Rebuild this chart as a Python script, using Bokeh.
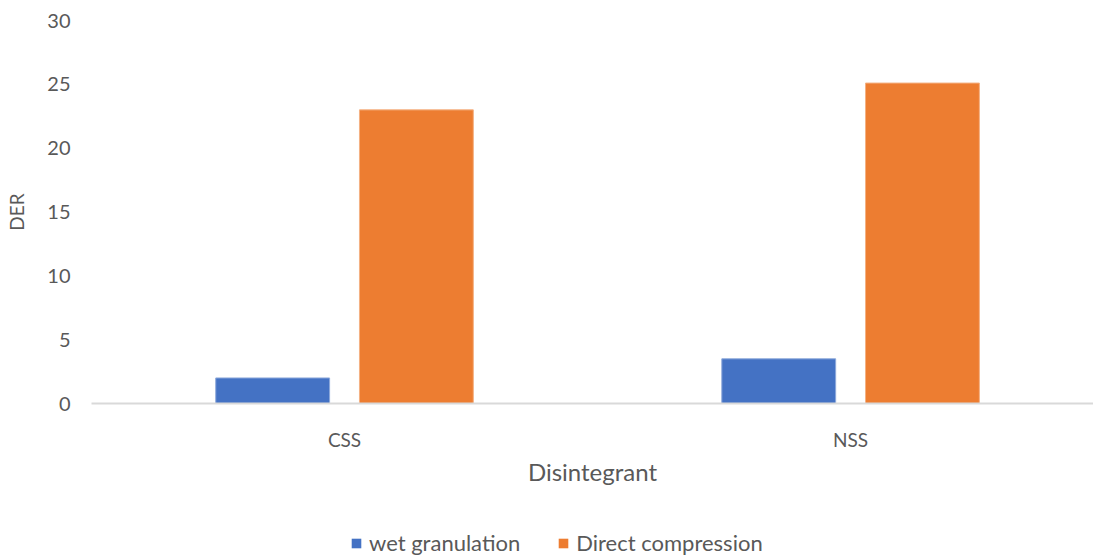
from bokeh.plotting import figure
from bokeh.layouts import column
from bokeh.models import ColumnDataSource, Range1d, FixedTicker, Legend, LegendItem
from bokeh.transform import dodge
from bokeh.embed import file_html
from bokeh.resources import INLINE

# Disintegration efficiency ratio per disintegrant and method
categories = ["CSS", "NSS"]
wet_granulation = [2.0, 3.5]
direct_compression = [23.0, 25.1]
y_ticks = [0, 5, 10, 15, 20, 25, 30]

FONT = "Lato"
GREY = "#595959"
BLUE = "#4472C4"
ORANGE = "#ED7D31"

# categories sit at the centres of unit-wide slots
positions = [i + 0.5 for i in range(len(categories))]
source = ColumnDataSource(dict(pos=positions, wet=wet_granulation, direct=direct_compression))

p = figure(
    x_range=Range1d(0, 1.98), y_range=Range1d(0, 30),
    width=1093, height=507,
    output_backend="svg", toolbar_location=None,
    min_border_left=91, min_border_right=0, min_border_top=20, min_border_bottom=104,
    outline_line_color=None,
)
p.xgrid.grid_line_color = None
p.ygrid.grid_line_color = None

bar_w = 0.225
p.vbar(x=dodge("pos", -0.142), top="wet", width=bar_w, source=source,
       fill_color=BLUE, line_color="#8EA9DB", line_width=1)
p.vbar(x=dodge("pos", 0.142), top="direct", width=bar_w, source=source,
       fill_color=ORANGE, line_color="#F4B183", line_width=1)

# y axis: labels only
p.yaxis.ticker = FixedTicker(ticks=y_ticks)
p.yaxis.axis_line_color = None
p.yaxis.major_tick_line_color = None
p.yaxis.minor_tick_line_color = None
p.yaxis.major_tick_out = 0
p.yaxis.major_label_text_font = FONT
p.yaxis.major_label_text_font_size = "20px"
p.yaxis.major_label_text_color = GREY
p.yaxis.major_label_standoff = 21
p.yaxis.axis_label = "DER"
p.yaxis.axis_label_text_font = FONT
p.yaxis.axis_label_text_font_size = "19px"
p.yaxis.axis_label_text_font_style = "normal"
p.yaxis.axis_label_text_color = GREY
p.yaxis.axis_label_standoff = 16

# x axis with category names at the slot centres
p.xaxis.ticker = FixedTicker(ticks=positions)
p.xaxis.major_label_overrides = {pos: cat for pos, cat in zip(positions, categories)}
p.xaxis.axis_line_color = "#D9D9D9"
p.xaxis.axis_line_width = 2
p.xaxis.major_tick_line_color = None
p.xaxis.minor_tick_line_color = None
p.xaxis.major_tick_out = 0
p.xaxis.major_label_text_font = FONT
p.xaxis.major_label_text_font_size = "19px"
p.xaxis.major_label_text_color = GREY
p.xaxis.major_label_standoff = 24
p.xaxis.axis_label = "Disintegrant"
p.xaxis.axis_label_text_font = FONT
p.xaxis.axis_label_text_font_size = "24px"
p.xaxis.axis_label_text_font_style = "normal"
p.xaxis.axis_label_text_color = GREY
p.xaxis.axis_label_standoff = 3

# legend strip underneath the chart; its bars lie well outside the visible ranges
leg = figure(
    x_range=Range1d(-101, -100), y_range=Range1d(100, 200),
    width=1093, height=50,
    output_backend="svg", toolbar_location=None,
    x_axis_location=None, y_axis_location=None,
    min_border_left=91, min_border_right=0, min_border_top=0, min_border_bottom=0,
    outline_line_color=None,
)
leg.grid.grid_line_color = None
r_wet = leg.vbar(x=dodge("pos", -0.142), top="wet", width=bar_w, source=source,
                 fill_color=BLUE, line_color=None)
r_dir = leg.vbar(x=dodge("pos", 0.142), top="direct", width=bar_w, source=source,
                 fill_color=ORANGE, line_color=None)
legend = Legend(
    items=[LegendItem(label="wet granulation", renderers=[r_wet]),
           LegendItem(label="Direct compression", renderers=[r_dir])],
    orientation="horizontal", location=(259, 1),
    label_text_font=FONT, label_text_font_size="22px", label_text_color=GREY,
    glyph_width=12, glyph_height=12, spacing=37, label_standoff=7,
    border_line_color=None, background_fill_alpha=0,
    margin=0, padding=0,
)
leg.add_layout(legend)

open("out.html", "w").write(file_html(column(p, leg, spacing=0), INLINE))
